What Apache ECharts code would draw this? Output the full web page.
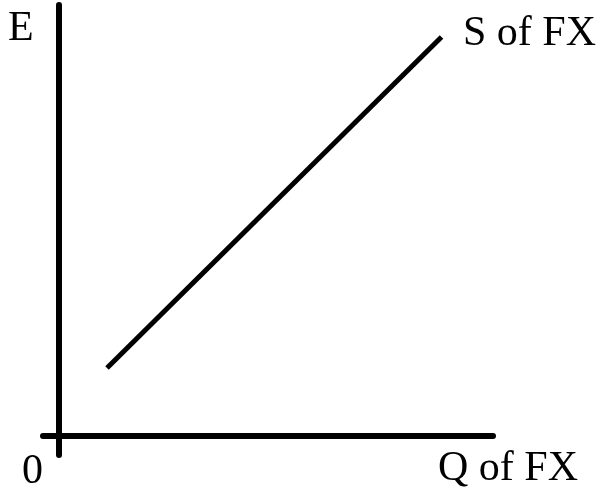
<!DOCTYPE html>
<html>
<head>
<meta charset="utf-8">
<style>
  html, body { margin: 0; padding: 0; background: #fff; }
  #chart { width: 604px; height: 495px; }
</style>
<script src="https://cdn.jsdelivr.net/npm/echarts@6/dist/echarts.min.js"></script>
</head>
<body>
<div id="chart"></div>
<script>
// supply curve of foreign exchange: two end points (Q, E)
const qValues = [4.85, 38.3]
const eValues = [6.8, 39.9]
// axis ranges (axes cross at 0, a little overhang past the origin)
const qRange = [-1.55, 43.45]
const eRange = [-1.9, 43.1]

const font = '42px "Liberation Serif", "Times New Roman", serif'

const chart = echarts.init(document.getElementById('chart'))
chart.setOption({
  animation: false,
  grid: { left: 43, right: 111, top: 5, bottom: 40 },
  xAxis: {
    type: 'value',
    min: qRange[0],
    max: qRange[1],
    axisLine: { onZero: true, lineStyle: { color: '#000', width: 6 } },
    axisTick: { show: false },
    axisLabel: { show: false },
    splitLine: { show: false }
  },
  yAxis: {
    type: 'value',
    min: eRange[0],
    max: eRange[1],
    axisLine: { onZero: true, lineStyle: { color: '#000', width: 6 } },
    axisTick: { show: false },
    axisLabel: { show: false },
    splitLine: { show: false }
  },
  graphic: [
    { type: 'text', left: 8, top: 8, style: { text: 'E', font: font, fill: '#000' } },
    { type: 'text', left: 463, top: 13, style: { text: 'S of FX', font: font, fill: '#000' } },
    { type: 'text', left: 22, top: 451, style: { text: '0', font: font, fill: '#000' } },
    { type: 'text', left: 438, top: 448, style: { text: 'Q of FX', font: font, fill: '#000' } }
  ],
  series: [
    {
      name: 'S of FX',
      type: 'line',
      symbol: 'none',
      lineStyle: { color: '#000', width: 5 },
      data: qValues.map((q, i) => [q, eValues[i]])
    }
  ]
})
</script>
</body>
</html>
